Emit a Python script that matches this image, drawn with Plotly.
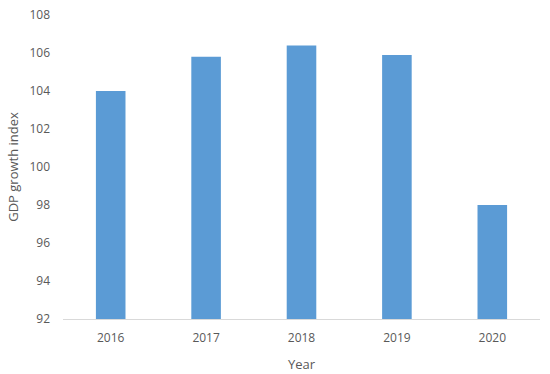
import plotly.graph_objects as go

years = ["2016", "2017", "2018", "2019", "2020"]
gdp_index = [104.0, 105.8, 106.4, 105.9, 98.0]

font_family = "Open Sans"
gray = "#595959"

fig = go.Figure()
fig.add_trace(go.Bar(
    x=years,
    y=gdp_index,
    marker=dict(color="#5B9BD5", line=dict(width=0)),
    showlegend=False,
))

fig.update_layout(
    width=550,
    height=374,
    margin=dict(l=63, r=10, t=15, b=55),
    plot_bgcolor="white",
    paper_bgcolor="white",
    bargap=0.69,
    font=dict(family=font_family, color=gray, size=12),
)

fig.update_xaxes(
    title=dict(text="Year", font=dict(size=13, color=gray), standoff=14),
    showline=True,
    linecolor="#D9D9D9",
    linewidth=1,
    showgrid=False,
    ticks="",
    ticklabelstandoff=8,
    automargin=False,
)

fig.update_yaxes(
    title=dict(text="GDP growth index", font=dict(size=13, color=gray), standoff=7),
    range=[92, 108],
    dtick=2,
    showgrid=False,
    zeroline=False,
    showline=False,
    ticks="",
    ticklabelstandoff=12,
    automargin=False,
)

# drop the default page margin so the figure sits at the window's corner
fig.write_html(
    "out.html",
    config={"displayModeBar": False},
    post_script="document.body.style.margin='0';",
)
